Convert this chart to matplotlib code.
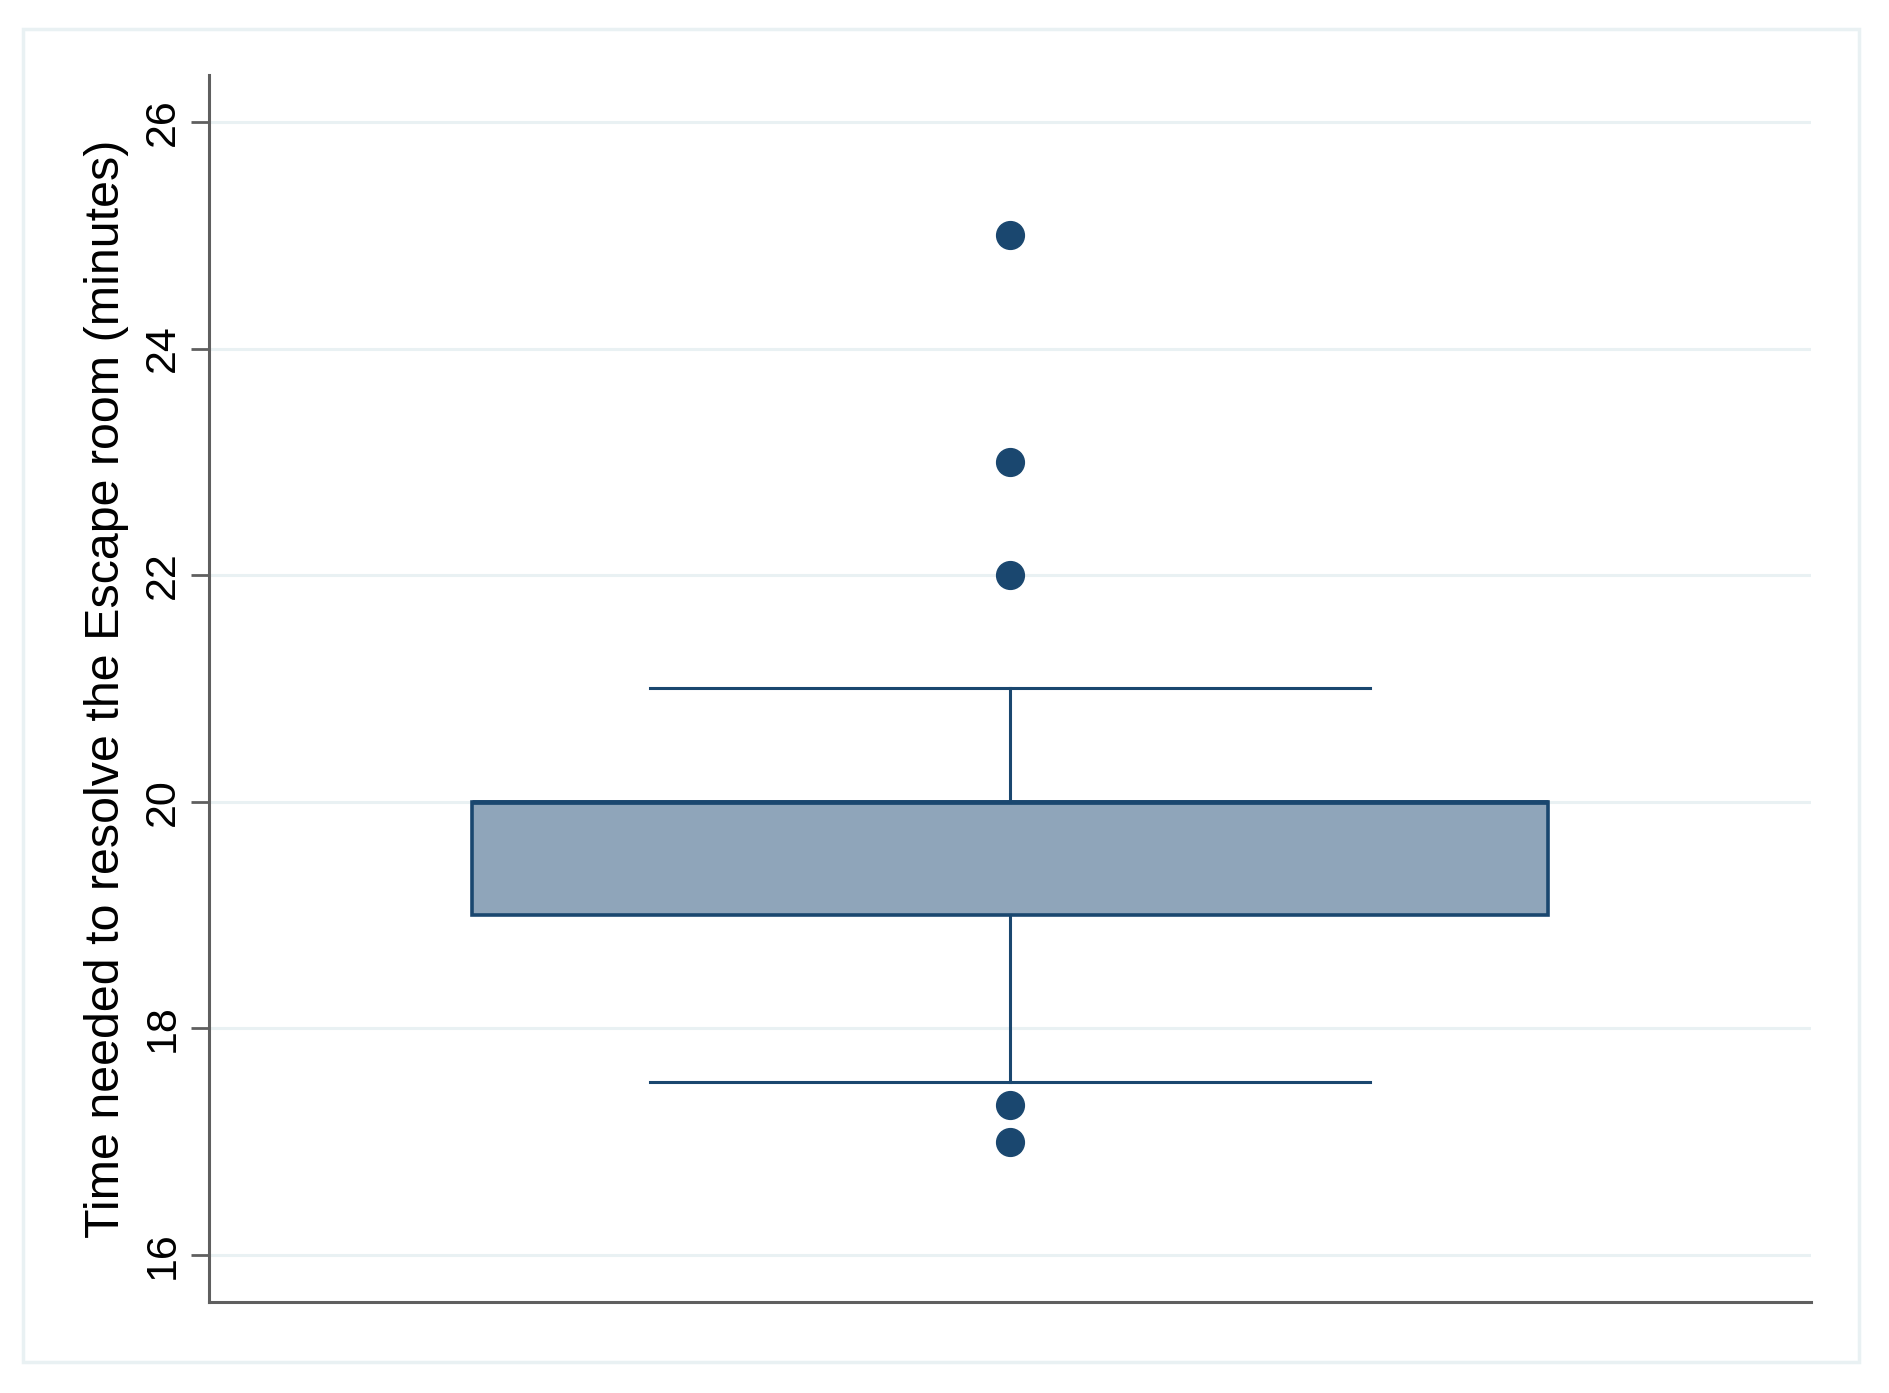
import matplotlib
matplotlib.use("Agg")
import matplotlib.pyplot as plt
from matplotlib.patches import Rectangle

# ---- data ----
group_label = ["Escape room"]
q1 = [19.0]
median = [20.0]
q3 = [20.0]
whisker_low = [17.53]
whisker_high = [21.0]
outliers = [[25.0, 23.0, 22.0, 17.32, 17.0]]
yticks = [16, 18, 20, 22, 24, 26]
ylabel = "Time needed to resolve the Escape room (minutes)"

navy = "#1a476f"
fill = "#8fa5ba"
grid_c = "#e9f1f3"
axis_c = "#5f5f5f"

plt.rcParams['font.family'] = ['Liberation Sans', 'DejaVu Sans']

fig = plt.figure(figsize=(18.89, 13.93), dpi=100)
ax = fig.add_axes([209/1889, 1 - 1302/1393, (1811-209)/1889, (1302-75)/1393])

stats = []
for i in range(len(group_label)):
    stats.append(dict(label=group_label[i], q1=q1[i], med=median[i], q3=q3[i],
                      whislo=whisker_low[i], whishi=whisker_high[i], fliers=outliers[i]))

ax.bxp(stats, positions=[1], widths=1.343, capwidths=0.898, patch_artist=True,
       showfliers=True,
       boxprops=dict(facecolor=fill, edgecolor=navy, linewidth=2.6),
       medianprops=dict(color=navy, linewidth=3.4),
       whiskerprops=dict(color=navy, linewidth=2.2),
       capprops=dict(color=navy, linewidth=2.2),
       flierprops=dict(marker='o', markerfacecolor=navy, markeredgecolor=navy,
                       markersize=20, linestyle='none'))

ax.set_xlim(0, 2)
ax.set_ylim(15.585, 26.415)
ax.set_yticks(yticks)
ax.set_yticklabels([str(t) for t in yticks], rotation=90, va='center', fontsize=31)
ax.set_xticks([])
ax.yaxis.grid(True, color=grid_c, linewidth=2.2)
ax.set_axisbelow(True)

for s in ['top', 'right']:
    ax.spines[s].set_visible(False)
for s in ['left', 'bottom']:
    ax.spines[s].set_color(axis_c)
    ax.spines[s].set_linewidth(2.2)
ax.tick_params(axis='y', length=13, width=2.0, color=axis_c, pad=6)

ax.set_ylabel(ylabel, fontsize=34.8, labelpad=10)

# outer light frame
fig.patches.append(Rectangle((23/1889, 1 - 1362/1393), (1859-23)/1889, (1362-29)/1393,
                             transform=fig.transFigure, fill=False,
                             edgecolor=grid_c, linewidth=2.5))

fig.savefig("out.png", dpi=100)
